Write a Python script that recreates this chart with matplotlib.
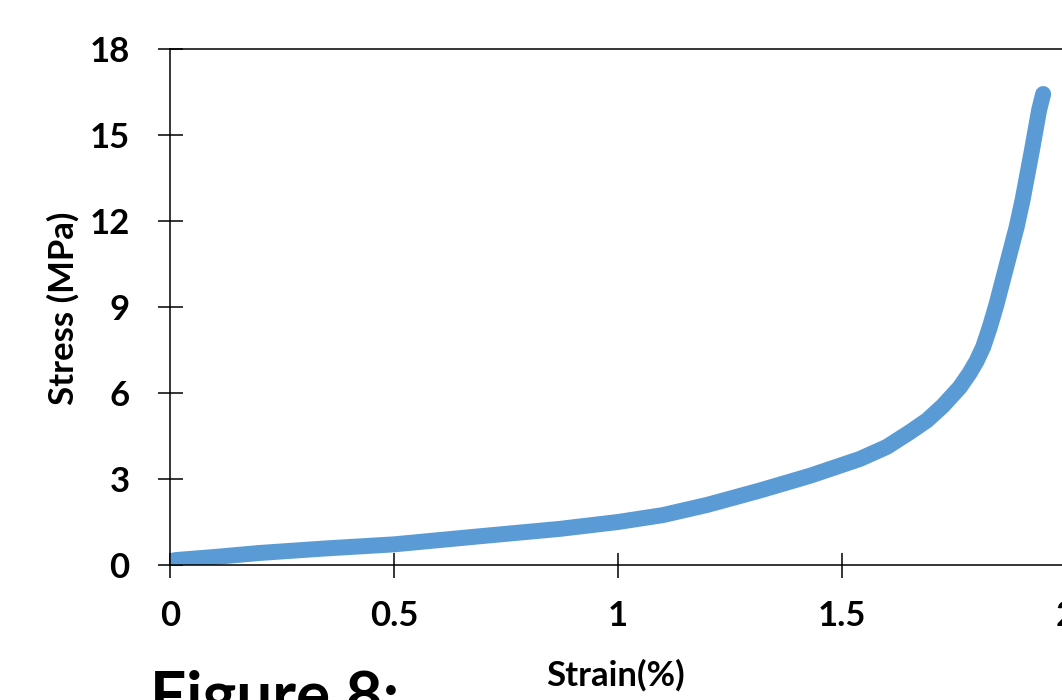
import numpy as np
import matplotlib
matplotlib.use("Agg")
import matplotlib.pyplot as plt

plt.rcParams['font.family'] = ['Lato', 'DejaVu Sans']
plt.rcParams['font.weight'] = 'bold'

# strain (%) vs stress (MPa)
strain = [0.011, 0.1, 0.2, 0.35, 0.5, 0.69, 0.87, 1.0, 1.1, 1.2, 1.317,
          1.43, 1.54, 1.6, 1.652, 1.69, 1.725, 1.763, 1.785, 1.80, 1.815,
          1.83, 1.845, 1.86, 1.875, 1.89, 1.903, 1.924, 1.94, 1.949]
stress = [0.17, 0.28, 0.42, 0.58, 0.72, 1.0, 1.26, 1.5, 1.74, 2.1, 2.6,
          3.12, 3.7, 4.12, 4.64, 5.05, 5.55, 6.2, 6.7, 7.1, 7.6,
          8.3, 9.1, 10.0, 10.9, 11.8, 12.73, 14.47, 15.87, 16.43]

xticks = [0, 0.5, 1, 1.5, 2]
xlabels = ['0', '0.5', '1', '1.5', '2']
yticks = [0, 3, 6, 9, 12, 15, 18]

fig = plt.figure(figsize=(10.62, 7.0), dpi=100)
ax = fig.add_axes([170/1062, 135/700, 896/1062, 516/700])

ax.plot(strain, stress, color='#5B9BD5', lw=11.5, solid_capstyle='round',
        solid_joinstyle='round', marker='o', markersize=9, markevery=[-1])

ax.set_xlim(0, 2)
ax.set_ylim(0, 18)
ax.set_xticks(xticks)
ax.set_xticklabels(xlabels)
ax.set_yticks(yticks)
for s in ax.spines.values():
    s.set_linewidth(1.1)
ax.tick_params(direction='inout', length=18, width=1.1, labelsize=25)
ax.tick_params(axis='x', pad=16)
ax.tick_params(axis='y', pad=20)
for t in ax.get_xticklabels() + ax.get_yticklabels():
    t.set_fontweight('bold')

fig.text(615/1062, 1 - 675/700, 'Strain(%)', ha='center', va='center',
         fontsize=25, fontweight='bold')
fig.text(63/1062, 1 - 308/700, 'Stress (MPa)', ha='center', va='center',
         rotation=90, fontsize=25, fontweight='bold')
fig.text(150/1062, 1 - 716/700, 'Figure 8:', ha='left', va='baseline',
         fontsize=46, fontweight='bold')

fig.savefig('out.png', dpi=100)
